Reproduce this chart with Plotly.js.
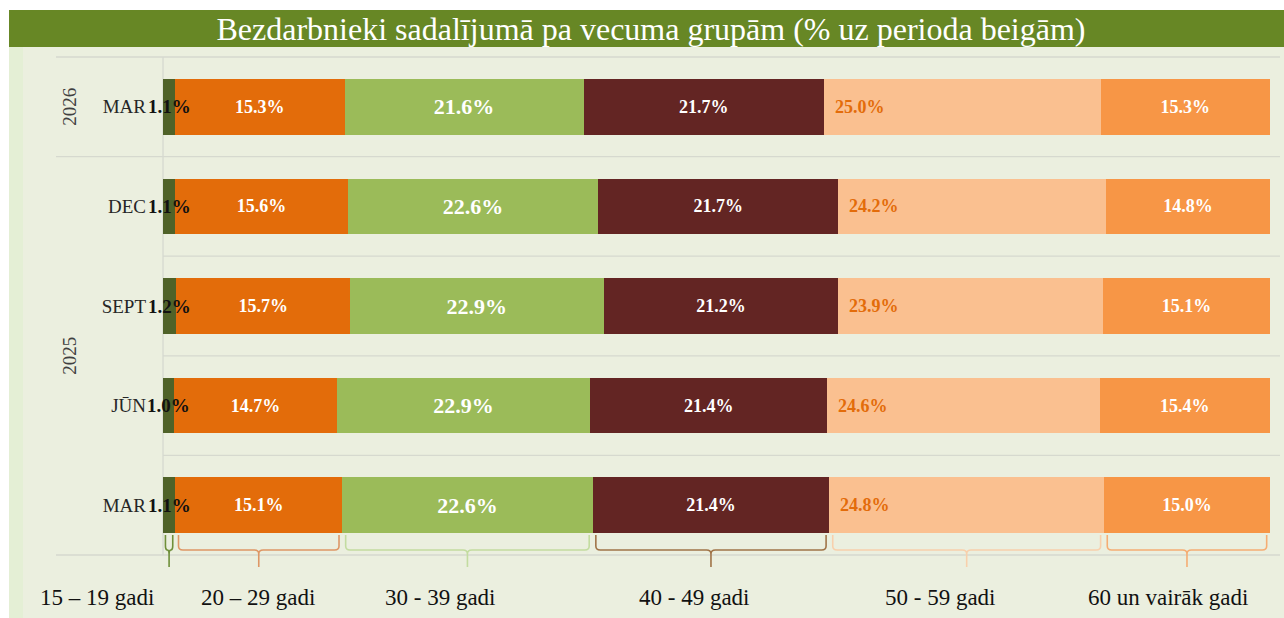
<!DOCTYPE html>
<html>
<head>
<meta charset="utf-8">
<script src="https://cdn.plot.ly/plotly-3.0.1.min.js"></script>
<style>html,body{margin:0;padding:0;background:#fff;}#chart{width:1284px;height:618px;}</style>
</head>
<body>
<div id="chart"></div>
<script>
// ---- data ----
const categoryIds = ["MAR25", "JUN25", "SEP25", "DEC25", "MAR26"];
const monthLabels = ["MAR", "JŪN", "SEPT", "DEC", "MAR"];
const yearLabels = ["2025", "2026"];
const ageGroups = ["15 – 19 gadi", "20 – 29 gadi", "30 - 39 gadi", "40 - 49 gadi", "50 - 59 gadi", "60 un vairāk gadi"];
const age15_19 = [1.1, 1.0, 1.2, 1.1, 1.1];
const age20_29 = [15.1, 14.7, 15.7, 15.6, 15.3];
const age30_39 = [22.6, 22.9, 22.9, 22.6, 21.6];
const age40_49 = [21.4, 21.4, 21.2, 21.7, 21.7];
const age50_59 = [24.8, 24.6, 23.9, 24.2, 25.0];
const age60plus = [15.0, 15.4, 15.1, 14.8, 15.3];
const titleText = "Bezdarbnieki sadalījumā pa vecuma grupām (% uz perioda beigām)";

// ---- styles ----
const series = [age15_19, age20_29, age30_39, age40_49, age50_59, age60plus];
const barColors = ["#4F6228", "#E36C0A", "#9BBB59", "#632523", "#FAC090", "#F79646"];
const textColors = ["#111111", "#FFFFFF", "#FFFFFF", "#FFFFFF", "#E36C0A", "#FFFFFF"];
const textSizes = [19, 18, 22, 18, 18, 18];
const braceColors = ["#6F8F3A", "#DE9766", "#C3DCA0", "#A07448", "#F8D0AC", "#F5AD74"];
const labelX = [-0.0596, 0.0858, 0.2511, 0.4797, 0.7019, 0.9079];
const serif = "Liberation Serif, Times New Roman, serif";

const centredText = [false, true, true, true, false, true];
const traces = series.map((vals, i) => ({
  type: "bar",
  orientation: "h",
  name: ageGroups[i],
  y: categoryIds,
  x: vals,
  marker: {color: barColors[i], line: {width: 0}},
  texttemplate: centredText[i] ? "%{x:.1f}%" : "",
  textposition: centredText[i] ? "inside" : "none",
  insidetextanchor: "middle",
  textangle: 0,
  insidetextfont: {family: serif, size: textSizes[i], color: textColors[i], weight: "bold"},
  hoverinfo: "skip"
}));

const starts = [];
series.forEach((vals, i) => {
  starts.push(vals.map((v, j) => i === 0 ? 0 : starts[i - 1][j] + series[i - 1][j]));
});

const plotTop = 57, plotBottom = 555, plotLeft = 163, plotW = 1107;
const py = p => (plotBottom - p) / (plotBottom - plotTop);
const px = p => (p - plotLeft) / plotW;

const shapes = [];
shapes.push({type: "rect", xref: "paper", yref: "paper", x0: px(9), x1: px(1284), y0: py(618), y1: py(47), fillcolor: "#EBEFDF", line: {width: 0}, layer: "below"});
shapes.push({type: "rect", xref: "paper", yref: "paper", x0: px(9), x1: px(23), y0: py(618), y1: py(47), fillcolor: "#E4EFD5", line: {width: 0}, layer: "below"});
shapes.push({type: "rect", xref: "paper", yref: "paper", x0: px(9), x1: px(1284), y0: py(47), y1: py(10), fillcolor: "#678725", line: {width: 0}, layer: "below"});
const n = categoryIds.length;
for (let k = 0; k <= n; k++) {
  const isGroupEdge = (k === 0 || k === n || k === n - 1);
  shapes.push({type: "line", xref: "paper", yref: "paper", x0: isGroupEdge ? px(56) : 0, x1: px(1280), y0: k / n, y1: k / n, line: {color: "#D6D9CF", width: 1.3}, layer: "below"});
}
shapes.push({type: "line", xref: "paper", yref: "paper", x0: 0, x1: 0, y0: 0, y1: 1, line: {color: "#D6D9CF", width: 1.3}, layer: "below"});

const yt = py(535), ym = py(550), yb = py(567), c = 0.008;
series.forEach((vals, i) => {
  const a0 = starts[i][0], b0 = a0 + vals[0];
  const inset = Math.min(0.3, (b0 - a0) * 0.2);
  const a = a0 + inset, b = b0 - inset, m = (a + b) / 2;
  const r = Math.min(0.4, (b - a) / 4);
  const path = `M ${a},${yt} L ${a},${ym + c} Q ${a},${ym} ${a + r},${ym} L ${m - r},${ym} Q ${m},${ym} ${m},${ym - c} L ${m},${yb} ` +
               `M ${b},${yt} L ${b},${ym + c} Q ${b},${ym} ${b - r},${ym} L ${m + r},${ym} Q ${m},${ym} ${m},${ym - c}`;
  shapes.push({type: "path", xref: "x", yref: "paper", path: path, line: {color: braceColors[i], width: 1.6}});
});

const annotations = [];
// 15–19 labels overflow the thin bar: centred on it
age15_19.forEach((v, j) => {
  annotations.push({text: "<b>" + v.toFixed(1) + "%</b>", xref: "x", yref: "y", x: starts[0][j] + v / 2, y: categoryIds[j],
    xanchor: "center", yanchor: "middle", showarrow: false,
    font: {family: serif, size: textSizes[0], color: textColors[0]}});
});
// 50–59 labels: left-aligned near segment start
age50_59.forEach((v, j) => {
  annotations.push({text: "<b>" + v.toFixed(1) + "%</b>", xref: "x", yref: "y", x: starts[4][j], y: categoryIds[j],
    xanchor: "left", yanchor: "middle", xshift: 9, showarrow: false,
    font: {family: serif, size: textSizes[4], color: textColors[4]}});
});
ageGroups.forEach((g, i) => {
  annotations.push({text: g, xref: "paper", yref: "paper", x: labelX[i], y: py(597), showarrow: false,
    xanchor: "center", yanchor: "middle", font: {family: serif, size: 23, color: "#111111"}});
});
annotations.push({text: yearLabels[1], xref: "paper", yref: "y", x: px(70), y: categoryIds[4], textangle: -90, showarrow: false,
  xanchor: "center", yanchor: "middle", font: {family: serif, size: 19, color: "#404040"}});
annotations.push({text: yearLabels[0], xref: "paper", yref: "y", x: px(70), y: 1.5, textangle: -90, showarrow: false,
  xanchor: "center", yanchor: "middle", font: {family: serif, size: 19, color: "#404040"}});

const layout = {
  width: 1284, height: 618,
  margin: {l: 163, r: 14, t: 57, b: 63, pad: 0},
  paper_bgcolor: "#FFFFFF",
  plot_bgcolor: "rgba(0,0,0,0)",
  barmode: "stack",
  bargap: 0.44,
  showlegend: false,
  title: {text: titleText, xref: "container", yref: "container", x: 651 / 1284, y: 1 - 29 / 618,
    xanchor: "center", yanchor: "middle", font: {family: serif, size: 32, color: "#FFFFFF"}},
  xaxis: {range: [0, 100], visible: false, fixedrange: true},
  yaxis: {type: "category", categoryorder: "array", categoryarray: categoryIds, tickvals: categoryIds, ticktext: monthLabels,
    range: [-0.5, n - 0.5], showgrid: false, zeroline: false, showline: false, ticks: "", ticklabelstandoff: 16,
    tickfont: {family: serif, size: 19, color: "#262626"}, fixedrange: true},
  shapes: shapes,
  annotations: annotations
};

Plotly.newPlot("chart", traces, layout, {displayModeBar: false, staticPlot: true});
</script>
</body>
</html>
